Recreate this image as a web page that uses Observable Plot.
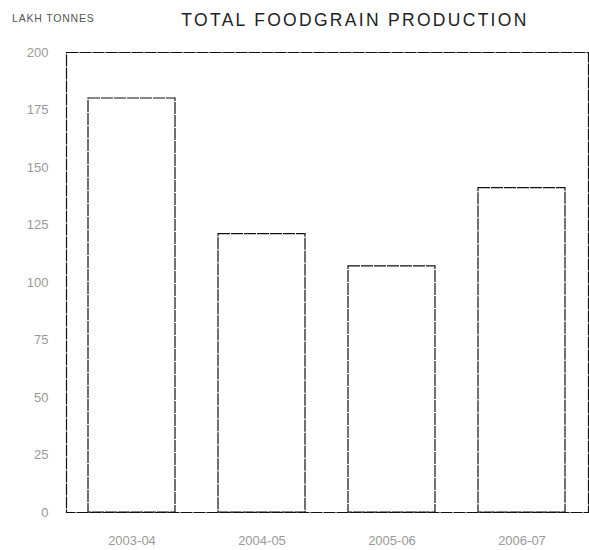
<!DOCTYPE html>
<html>
<head>
<meta charset="utf-8">
<script src="https://cdn.jsdelivr.net/npm/d3@7"></script>
<script src="https://cdn.jsdelivr.net/npm/@observablehq/plot@0.6"></script>
<style>
  body { margin: 0; background: #fff; font-family: "Liberation Sans", Arial, sans-serif; }
  #wrap { position: relative; width: 589px; }
  #head { position: relative; height: 40px; }
  #unit { position: absolute; left: 12px; top: 12px; font-size: 10.5px; color: #555; letter-spacing: 0.8px; }
  #title { position: absolute; left: 0; width: 710px; text-align: center; top: 10px; font-size: 17.5px; color: #222; letter-spacing: 2.3px; }
</style>
</head>
<body>
<div id="wrap">
  <div id="head">
    <div id="unit">LAKH TONNES</div>
    <div id="title">TOTAL FOODGRAIN PRODUCTION</div>
  </div>
  <div id="chart"></div>
</div>
<script>
const years = ["2003-04", "2004-05", "2005-06", "2006-07"];
const production = [180, 121, 107, 141];
const yTicks = [0, 25, 50, 75, 100, 125, 150, 175, 200];

const data = years.map((y, i) => ({year: y, value: production[i]}));

const chart = Plot.plot({
  width: 589,
  height: 510,
  marginLeft: 66,
  marginRight: 1,
  marginTop: 12,
  marginBottom: 38,
  style: {fontFamily: "Liberation Sans, Arial, sans-serif", fontSize: "13px", color: "#999", background: "#fff"},
  x: {domain: years, paddingInner: 0.33, paddingOuter: 0.17, label: null, tickSize: 0},
  y: {domain: [0, 200], ticks: yTicks, label: null, tickSize: 0},
  marks: [
    Plot.barY(data, {x: "year", y: "value", fill: "white", stroke: "#111", strokeWidth: 1.2, strokeDasharray: "12,1"}),
    Plot.frame({stroke: "#111", strokeWidth: 1.2, strokeDasharray: "12,1"}),
    Plot.axisY({ticks: yTicks, tickSize: 0, tickPadding: 18, label: null, fill: "#999", fontSize: 13}),
    Plot.axisX({tickSize: 0, tickPadding: 23, label: null, fill: "#999", fontSize: 13, style: {letterSpacing: "0.8px"}})
  ]
});
document.getElementById("chart").appendChild(chart);
</script>
</body>
</html>
